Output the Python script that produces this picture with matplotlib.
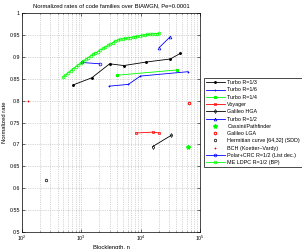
import matplotlib
matplotlib.use("Agg")
import matplotlib.pyplot as plt

# data
turbo13_n = [733, 1500, 3000, 5200, 12300, 31600, 46800]
turbo13_r = [0.836, 0.852, 0.884, 0.880, 0.888, 0.895, 0.908]

turbo16_n = [2950, 6200, 9900, 63000]
turbo16_r = [0.833, 0.837, 0.856, 0.866]

turbo14_n = [4050, 41000]
turbo14_r = [0.858, 0.870]

voyager_n = [8300, 15900, 20600]
voyager_r = [0.726, 0.728, 0.726]

galileo_hga_n = [15900, 33000]
galileo_hga_r = [0.695, 0.721]

turbo12_n = [20500, 31600]
turbo12_r = [0.921, 0.946]

cassini_n = [63000]
cassini_r = [0.695]

galileo_lga_n = [66000]
galileo_lga_r = [0.795]

hermitian_n = [256]
hermitian_r = [0.619]

bch_n = [127]
bch_r = [0.798]

polar_n = [1024, 2048]
polar_r = [0.887, 0.884]

ldpc_n = [490, 540, 600, 660, 730, 800, 880, 970, 1070, 1180, 1300, 1430,
          1570, 1730, 1900, 2100, 2300, 2540, 2800, 3080, 3390, 3730, 4100,
          4500, 5000, 5500, 6000, 6600, 7300, 8000, 8800, 9700, 10700, 11800,
          13000, 14300, 15700, 17300, 19000, 20500]
ldpc_r = [0.853, 0.858, 0.864, 0.868, 0.873, 0.877, 0.881, 0.886, 0.890,
          0.894, 0.898, 0.902, 0.906, 0.909, 0.912, 0.916, 0.919, 0.922,
          0.926, 0.929, 0.932, 0.936, 0.938, 0.940, 0.941, 0.942, 0.943,
          0.944, 0.945, 0.946, 0.947, 0.948, 0.949, 0.950, 0.951, 0.951,
          0.952, 0.953, 0.953, 0.954]

plt.rcParams["font.family"] = ["Liberation Sans", "DejaVu Sans"]
plt.rcParams["mathtext.fontset"] = "custom"
plt.rcParams["mathtext.rm"] = "Liberation Sans"

fig = plt.figure(figsize=(3.02, 2.49), dpi=100)
ax = fig.add_axes([22 / 302, 17 / 249, 178 / 302, 219 / 249])

lw = 0.6
ms = 2.0
ax.plot(turbo13_n, turbo13_r, "k-", marker=".", ms=2.2, lw=lw, label="Turbo R=1/3")
ax.plot(turbo16_n, turbo16_r, "b-", marker="+", ms=ms, mew=0.5, lw=lw, label="Turbo R=1/6")
ax.plot(turbo14_n, turbo14_r, "-", color="#00ff00", marker="*", ms=ms, lw=lw, label="Turbo R=1/4")
ax.plot(voyager_n, voyager_r, "r-", marker="s", ms=ms, mfc="none", mew=0.5, lw=lw, label="Voyager")
ax.plot(galileo_hga_n, galileo_hga_r, "k-", marker="d", ms=ms, mfc="none", mew=0.5, lw=lw, label="Galileo HGA")
ax.plot(turbo12_n, turbo12_r, "b-", marker="^", ms=ms, mfc="none", mew=0.5, lw=lw, label="Turbo R=1/2")
ax.plot(cassini_n, cassini_r, ls="none", color="#00ff00", marker="*", ms=3.0, label="Cassini/Pathfinder")
ax.plot(galileo_lga_n, galileo_lga_r, ls="none", color="r", marker="h", ms=ms, mfc="none", mew=0.7, label="Galileo LGA")
ax.plot(hermitian_n, hermitian_r, ls="none", color="k", marker="h", ms=ms, mfc="none", mew=0.5, label="Hermitian curve [64,32] (SDD)")
ax.plot(bch_n, bch_r, ls="none", color="r", marker="+", ms=ms, mew=0.6, label="BCH (Koetter\u2013Vardy)")
ax.plot(polar_n, polar_r, "b-", marker="o", ms=ms, mfc="none", mew=0.5, lw=lw, label="Polar+CRC R=1/2 (List dec.)")
ax.plot(ldpc_n, ldpc_r, "-", color="#00ff00", marker="o", ms=ms, mfc="none", mew=0.5, lw=lw, label="ME LDPC R=1/2 (BP)")

ax.set_xscale("log")
ax.set_xlim(1e2, 1e5)
ax.set_ylim(0.5, 1.0)
ax.set_yticks([0.5, 0.55, 0.6, 0.65, 0.7, 0.75, 0.8, 0.85, 0.9, 0.95, 1.0])
ax.set_yticklabels(["0.5", "0.55", "0.6", "0.65", "0.7", "0.75", "0.8", "0.85", "0.9", "0.95", "1"])
ax.grid(True, which="major", ls=":", lw=0.5, color="#b0b0b0")
ax.grid(True, which="minor", axis="x", ls=":", lw=0.5, color="#b0b0b0")
ax.tick_params(which="both", direction="in", top=True, right=True, labelsize=3.8,
               length=2, width=0.4, pad=1.5)
ax.tick_params(which="minor", length=1)
for s in ax.spines.values():
    s.set_linewidth(0.5)

ax.set_title("Normalized rates of code families over BIAWGN, Pe=0.0001", fontsize=4.2, pad=4)
ax.set_xlabel("Blocklength, n", fontsize=4.2, labelpad=1)
ax.set_ylabel("Normalized rate", fontsize=4.2, labelpad=2)

leg = ax.legend(loc="upper left", bbox_to_anchor=(204 / 302, 1 - 78 / 249),
                bbox_transform=fig.transFigure, fontsize=3.9, fancybox=False,
                edgecolor="k", framealpha=1, borderaxespad=0, handlelength=3.4,
                labelspacing=0.42, borderpad=0.4, handletextpad=0.5)
leg.get_frame().set_linewidth(0.5)

fig.savefig("out.png", dpi=100)
